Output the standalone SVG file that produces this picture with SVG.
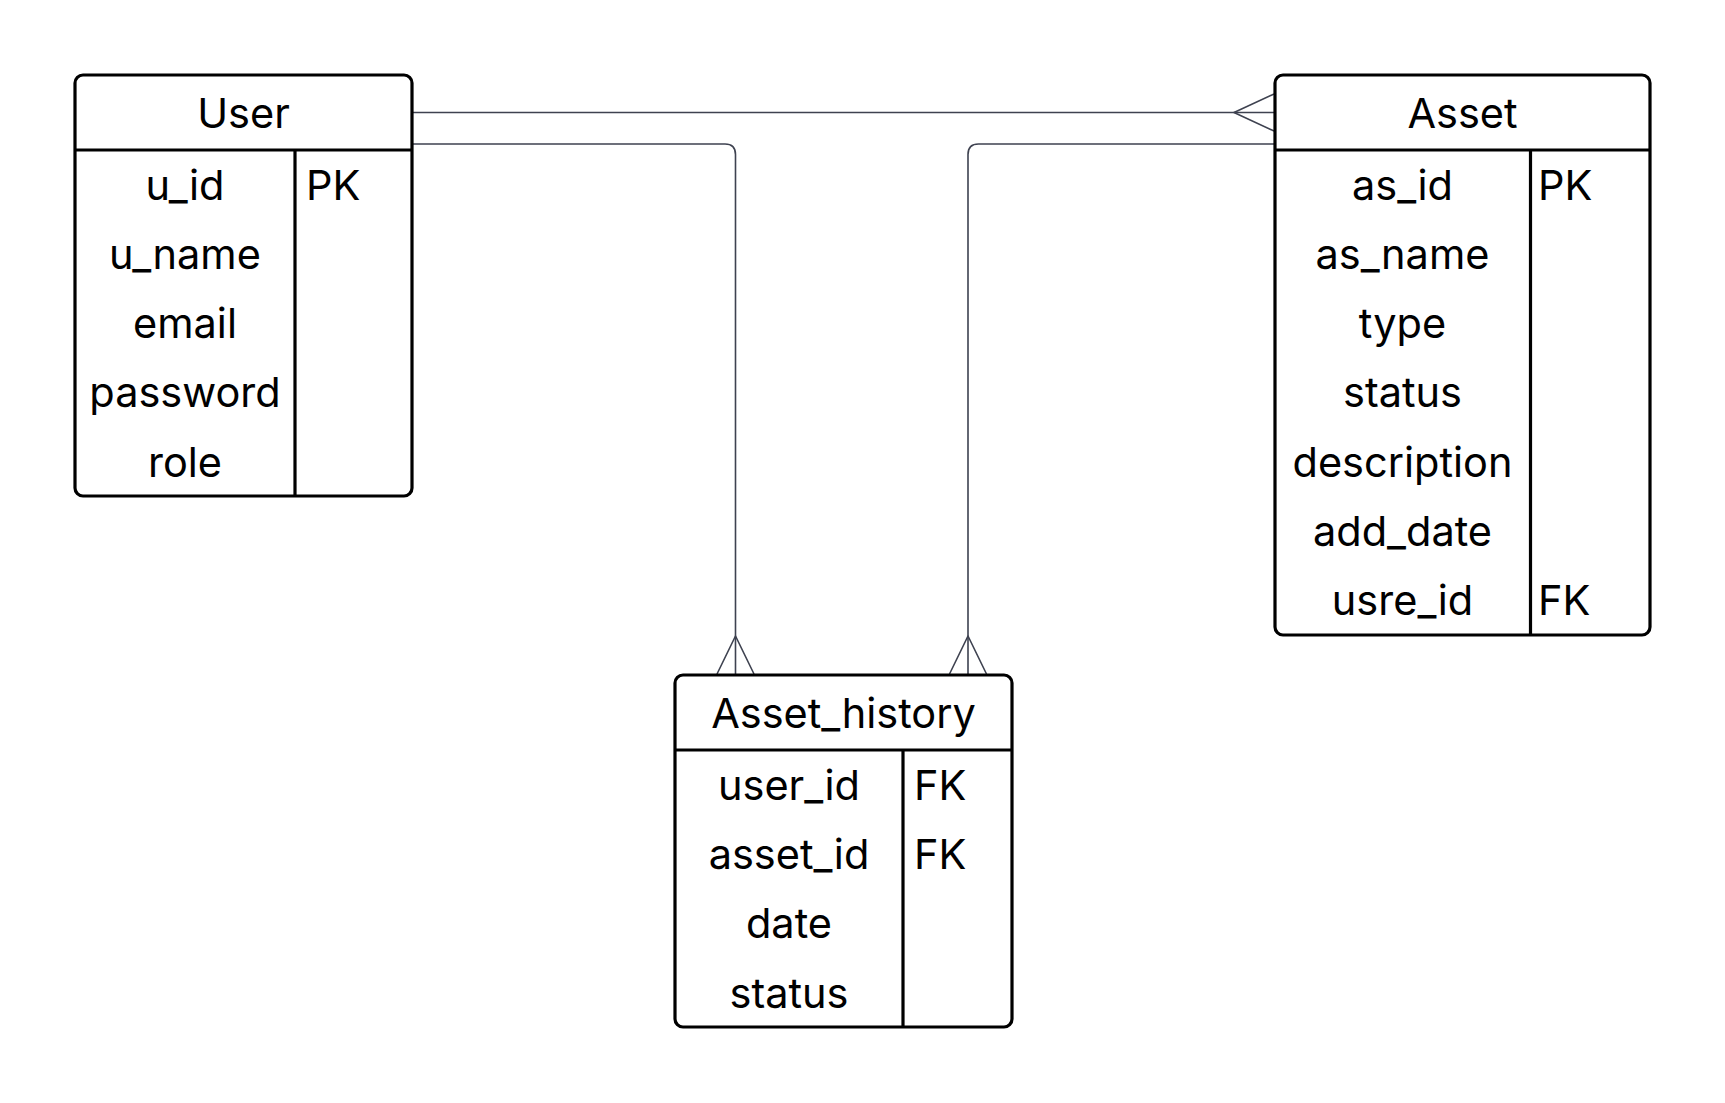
<svg xmlns="http://www.w3.org/2000/svg" width="1725" height="1103" viewBox="0 0 1725 1103">
<style>
  .box { fill: #ffffff; stroke: #000000; stroke-width: 3.2; }
  .div { stroke: #000000; stroke-width: 3.2; fill: none; }
  .t { font-family: Inter, "Liberation Sans", sans-serif; font-size: 41.5px; fill: #000000; }
  .c { text-anchor: middle; }
  .conn { fill: none; stroke: #3e4250; stroke-width: 1.6; stroke-linejoin: round; }
</style>
<rect width="1725" height="1103" fill="#ffffff"/>
<g id="connectors">
  <path class="conn" d="M412,112.5 H1275"/>
  <path class="conn" d="M1274,94 L1234,112.5 L1274,131"/>
  <path class="conn" d="M412,144 H725 Q735.5,144 735.5,154.5 V674"/>
  <path class="conn" d="M717,674 L735.5,636 L754,674"/>
  <path class="conn" d="M1275,144 H978.5 Q968,144 968,154.5 V674"/>
  <path class="conn" d="M949.5,674 L968,636 L986.5,674"/>
</g>
<g id="user">
  <rect class="box" x="75" y="75" width="337" height="421" rx="8"/>
  <line class="div" x1="75" y1="150" x2="412" y2="150"/>
  <line class="div" x1="295" y1="150" x2="295" y2="496"/>
  <text class="t c" x="243.5" y="127.5">User</text>
  <text class="t c" x="185" y="199.5">u_id</text>
  <text class="t" x="306" y="199.5">PK</text>
  <text class="t c" x="185" y="269">u_name</text>
  <text class="t c" x="185" y="338">email</text>
  <text class="t c" x="185" y="407">password</text>
  <text class="t c" x="185" y="476.5">role</text>
</g>
<g id="asset">
  <rect class="box" x="1275" y="75" width="375" height="560" rx="8"/>
  <line class="div" x1="1275" y1="150" x2="1650" y2="150"/>
  <line class="div" x1="1530.5" y1="150" x2="1530.5" y2="635"/>
  <text class="t c" x="1462.5" y="127.5">Asset</text>
  <text class="t c" x="1402.5" y="199.5">as_id</text>
  <text class="t" x="1538" y="199.5">PK</text>
  <text class="t c" x="1402.5" y="269">as_name</text>
  <text class="t c" x="1402.5" y="338">type</text>
  <text class="t c" x="1402.5" y="407">status</text>
  <text class="t c" x="1402.5" y="476.5">description</text>
  <text class="t c" x="1402.5" y="545.5">add_date</text>
  <text class="t c" x="1402.5" y="615">usre_id</text>
  <text class="t" x="1538" y="615">FK</text>
</g>
<g id="asset_history">
  <rect class="box" x="675" y="675" width="337" height="352" rx="8"/>
  <line class="div" x1="675" y1="750" x2="1012" y2="750"/>
  <line class="div" x1="903" y1="750" x2="903" y2="1027"/>
  <text class="t c" x="843.5" y="727.5">Asset_history</text>
  <text class="t c" x="789" y="799.5">user_id</text>
  <text class="t" x="914" y="799.5">FK</text>
  <text class="t c" x="789" y="869">asset_id</text>
  <text class="t" x="914" y="869">FK</text>
  <text class="t c" x="789" y="938">date</text>
  <text class="t c" x="789" y="1007.5">status</text>
</g>
</svg>
